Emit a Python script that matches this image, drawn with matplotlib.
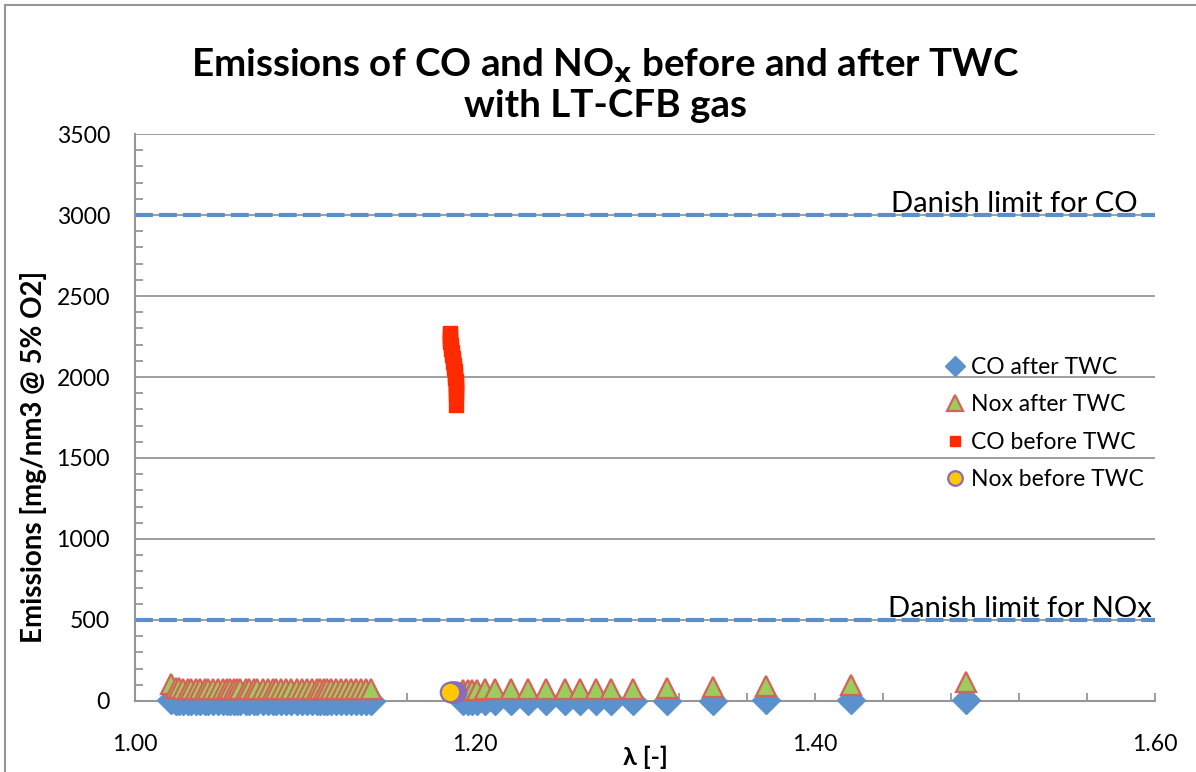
import numpy as np
import matplotlib.pyplot as plt
from matplotlib.patches import Rectangle
from matplotlib.ticker import MultipleLocator, FormatStrFormatter

plt.rcParams['font.family'] = ['Lato', 'DejaVu Sans']

# lambda values for the after-TWC measurements
lam_after = [1.021, 1.024, 1.026, 1.028, 1.031, 1.033, 1.036, 1.038, 1.041, 1.043,
             1.046, 1.049, 1.052, 1.054, 1.056, 1.058, 1.060, 1.062, 1.065, 1.067,
             1.070, 1.072, 1.075, 1.078, 1.081, 1.083, 1.086, 1.089, 1.092, 1.095,
             1.098, 1.101, 1.104, 1.107, 1.109, 1.111, 1.113, 1.115, 1.118, 1.121,
             1.124, 1.127, 1.130, 1.133, 1.136, 1.139,
             1.193, 1.196, 1.198, 1.201, 1.206, 1.212, 1.221, 1.231, 1.242, 1.253,
             1.262, 1.271, 1.280, 1.293, 1.313, 1.340, 1.371, 1.421, 1.489]
co_after = [3, 2, 2, 2, 1, 1, 1, 1, 1, 1,
            1, 1, 1, 1, 1, 1, 1, 1, 1, 1,
            1, 1, 1, 1, 1, 1, 1, 1, 1, 1,
            1, 1, 1, 1, 1, 1, 1, 1, 1, 1,
            1, 1, 1, 1, 1, 1,
            2, 2, 2, 2, 2, 2, 2, 2, 2, 2,
            2, 2, 2, 2, 2, 2, 3, 3, 3]
nox_after = [105, 80, 78, 77, 76, 76, 75, 75, 75, 74,
             74, 74, 75, 76, 76, 76, 75, 75, 75, 74,
             74, 74, 74, 73, 73, 73, 73, 72, 72, 72,
             72, 72, 73, 74, 74, 74, 73, 73, 73, 72,
             72, 72, 72, 72, 72, 72,
             70, 70, 70, 70, 71, 72, 72, 73, 73, 74,
             74, 75, 75, 77, 80, 85, 92, 100, 118]

# before-TWC measurements
lam_co_before = [1.1850, 1.1851, 1.1853, 1.1855, 1.1857, 1.1860, 1.1863, 1.1866,
                 1.1870, 1.1873, 1.1876, 1.1879, 1.1881, 1.1883, 1.1885, 1.1887,
                 1.1888, 1.1889, 1.1890, 1.1890, 1.1891]
co_before = [2270, 2255, 2235, 2215, 2195, 2175, 2155, 2135, 2115, 2095,
             2075, 2055, 2035, 2015, 1995, 1975, 1955, 1935, 1915, 1895, 1830]
lam_nox_before = [1.1890, 1.1885, 1.1880, 1.1875, 1.1870, 1.1865, 1.1860, 1.1856, 1.1853]
nox_before = [58, 58, 57, 57, 56, 56, 55, 55, 55]

co_limit = 3000
nox_limit = 500

fig = plt.figure(figsize=(11.96, 7.72), dpi=100)
ax = fig.add_axes([0.1129, 0.0920, 0.8528, 0.7344])

grey = '#969696'
ax.set_xlim(1.0, 1.6)
ax.set_ylim(0, 3500)
ax.yaxis.set_major_locator(MultipleLocator(500))
ax.yaxis.set_minor_locator(MultipleLocator(100))
ax.xaxis.set_major_locator(MultipleLocator(0.2))
ax.xaxis.set_minor_locator(MultipleLocator(0.04))
ax.xaxis.set_major_formatter(FormatStrFormatter('%.2f'))
ax.grid(axis='y', color=grey, lw=1.3)
ax.set_axisbelow(True)
for s in ['top', 'right']:
    ax.spines[s].set_visible(False)
for s in ['left', 'bottom']:
    ax.spines[s].set_color(grey)
    ax.spines[s].set_linewidth(1.5)
ax.tick_params(axis='x', which='both', direction='in', length=6, color=grey,
               width=1.3, labelsize=16.6, pad=24)
ax.tick_params(axis='y', which='both', direction='in', length=6, color=grey,
               width=1.3, labelsize=16.6, pad=18)
ax.tick_params(axis='y', which='major', length=0)

# limit lines
lim_col = '#5A8FCB'
ax.axhline(co_limit, color=lim_col, lw=3, ls=(0, (4.3, 1.45)), zorder=2)
ax.axhline(nox_limit, color=lim_col, lw=3, ls=(0, (4.3, 1.45)), zorder=2)
ax.text(1.590, co_limit + 18, 'Danish limit for CO', ha='right', va='baseline', fontsize=21)
ax.text(1.598, nox_limit + 18, 'Danish limit for NOx', ha='right', va='baseline', fontsize=21)

ax.plot(lam_after, co_after, ls='none', marker='D', ms=14, mfc='#5B92CE',
        mec='#5B92CE', label='CO after TWC', clip_on=False, zorder=3)
ax.plot(lam_after, nox_after, ls='none', marker='^', ms=15, mfc='#9ACD5E',
        mec='#D6625A', mew=1.6, label='Nox after TWC', clip_on=False, zorder=4)
ax.plot(lam_co_before, co_before, ls='none', marker='s', ms=10, mfc='#FF2A00',
        mec='#FF2A00', label='CO before TWC', zorder=5)
ax.plot(lam_nox_before, nox_before, ls='none', marker='o', ms=14, mfc='#FFC800',
        mec='#8A6CB8', mew=1.6, label='Nox before TWC', clip_on=False, zorder=6)

ax.legend(loc='upper left', bbox_to_anchor=(0.7805, 0.627), frameon=False, fontsize=16.5,
          handletextpad=0.15, labelspacing=0.72, markerscale=0.75, handlelength=1.1,
          borderpad=0)

ax.set_xlabel('λ [-]', fontsize=18, fontweight='bold')
ax.xaxis.set_label_coords(0.5, -0.078)
ax.set_ylabel('Emissions [mg/nm3 @ 5% O2]', fontsize=20, fontweight='bold')
ax.yaxis.set_label_coords(-0.086, 0.43)

fig.text(605 / 1196, 0.89, 'Emissions of CO and NO$_\\mathbf{x}$ before and after TWC\nwith LT-CFB gas',
         ha='center', va='center', fontsize=27.7, fontweight='bold', linespacing=1.12)

# chart area border
fig.add_artist(Rectangle((5 / 1196, -0.05), 1.2, 1.05 - 5 / 772, transform=fig.transFigure,
                         fill=False, edgecolor=grey, lw=1.5, clip_on=False))

fig.savefig('out.png', dpi=100)
